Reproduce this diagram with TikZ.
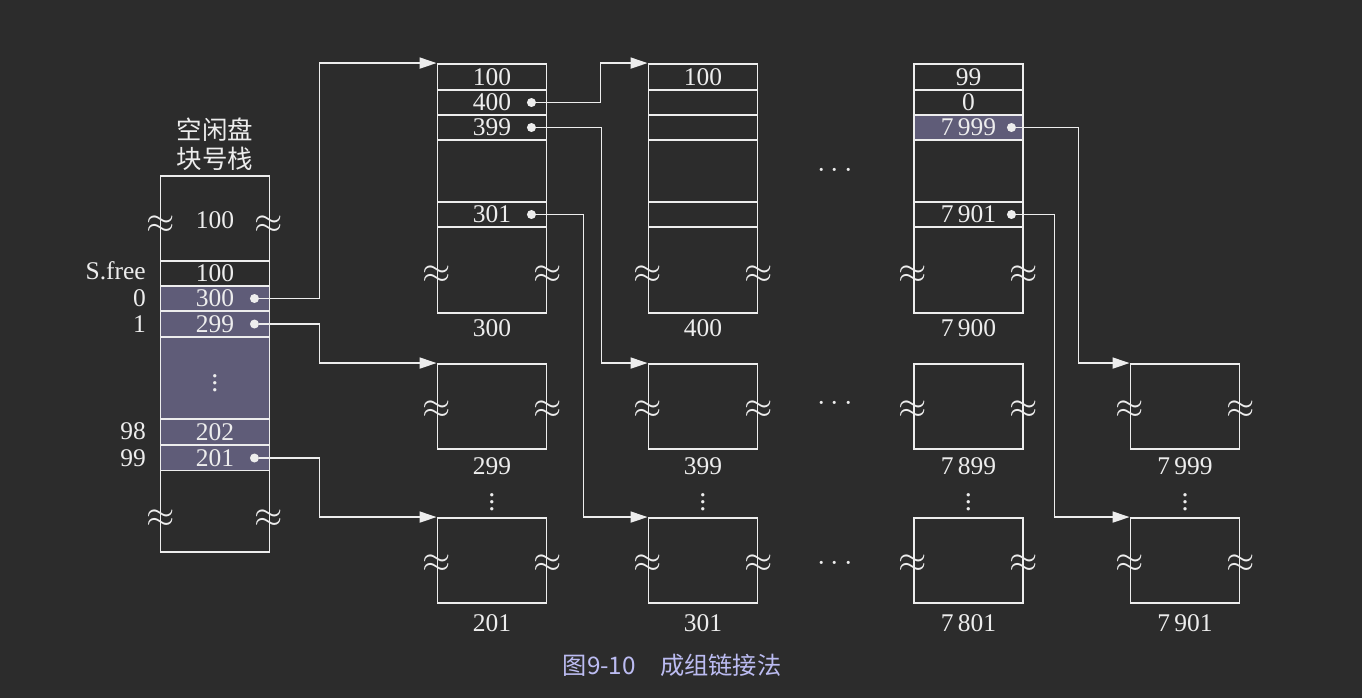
\documentclass[tikz,border=0pt]{standalone}
\usepackage{fontspec}
\setmainfont{Liberation Serif}
\newfontfamily\cjk{Noto Sans CJK SC}
\usetikzlibrary{arrows.meta}
\definecolor{bgdark}{HTML}{2C2C2C}
\definecolor{ink}{HTML}{EDEDED}
\definecolor{slot}{HTML}{5F5C78}
\definecolor{capblue}{HTML}{BCBCF2}

\begin{document}
\begin{tikzpicture}[
  >={Triangle[length=3.4mm, width=2.2mm]}, x=0.02cm, y=-0.02cm,
  every node/.style={text=ink, font=\fontsize{14.5}{17}\selectfont},
  blk/.style={draw=ink, line width=1.1pt, minimum width=2.18cm, inner sep=0pt},
  cell/.style={draw=ink, line width=1.1pt, minimum width=2.18cm,
               minimum height=0.5cm, inner sep=0pt},
  used/.style={cell, fill=slot},
  pin/.style={circle, fill=ink, minimum size=1.8mm, inner sep=0pt},
  brk/.style={font=\fontsize{20}{20}\selectfont, inner sep=0pt},
  gap/.style={inner sep=0pt, font=\fontsize{16}{16}\selectfont},
  link/.style={->, draw=ink, line width=1pt}
]

\fill[bgdark] (0,0) rectangle (1362,698);

% free block number stack
\node[font=\cjk\fontsize{14.5}{16.5}\selectfont, align=center] (sttitle) at (215,144) {空闲盘\\块号栈};
\node[blk, minimum height=7.52cm] (st) at (215,364) {};
\node (sttop) at (215,220) {100};
\node[cell] (stfree) at (215,273.5) {100};
\node[used] (st0) at (215,298.5) {300};
\node[used] (st1) at (215,324) {299};
\node[used, minimum height=1.64cm, font=\fontsize{16}{16}\selectfont] (stdots) at (215,378) {$\vdots$};
\node[used] (st98) at (215,432) {202};
\node[used] (st99) at (215,458) {201};
\foreach \yy in {225,519}{
  \node[brk] (stl\yy) at (161,\yy) {$\approx$};
  \node[brk] (str\yy) at (269,\yy) {$\approx$};
}
\node[anchor=east] (lfree) at (152,271) {S.free};
\node[anchor=east] (l0) at (152,298) {0};
\node[anchor=east] (l1) at (152,324) {1};
\node[anchor=east] (l98) at (152,431) {98};
\node[anchor=east] (l99) at (152,458) {99};
\node[pin] (p0) at ([xshift=-0.32cm]st0.east) {};
\node[pin] (p1) at ([xshift=-0.32cm]st1.east) {};
\node[pin] (p99) at ([xshift=-0.32cm]st99.east) {};

% first blocks of each group
\foreach \cx/\nm/\lb/\va/\vb/\vc/\vd/\st in {492/300/300/100/400/399/301/cell,
    703/400/400/100////cell, 968.5/7900/7\,900/99/0/7\,999/7\,901/used}{
  \node[blk, minimum height=4.98cm] (b\nm) at (\cx,188.5) {};
  \node[cell] (b\nm a) at (\cx,77) {\va};
  \node[cell] (b\nm b) at (\cx,102.5) {\vb};
  \node[\st] (b\nm c) at (\cx,127.5) {\vc};
  \node[cell] (b\nm d) at (\cx,214.5) {\vd};
  \node[brk] (b\nm l) at ([yshift=-1.73cm]b\nm.west) {$\approx$};
  \node[brk] (b\nm r) at ([yshift=-1.73cm]b\nm.east) {$\approx$};
  \node (b\nm n) at (\cx,328) {\lb};
}
\node[pin] (p400) at ([xshift=-0.32cm]b300b.east) {};
\node[pin] (p399) at ([xshift=-0.32cm]b300c.east) {};
\node[pin] (p301) at ([xshift=-0.32cm]b300d.east) {};
\node[pin] (p7999) at ([xshift=-0.25cm]b7900c.east) {};
\node[pin] (p7901) at ([xshift=-0.25cm]b7900d.east) {};

% other blocks
\foreach \cx/\nm/\lb in {492/299/299, 703/399/399, 968.5/7899/7\,899, 1185/7999/7\,999}{
  \node[blk, minimum height=1.7cm] (b\nm) at (\cx,406.5) {};
  \node[brk] (b\nm l) at ([yshift=-0.07cm]b\nm.west) {$\approx$};
  \node[brk] (b\nm r) at ([yshift=-0.07cm]b\nm.east) {$\approx$};
  \node (b\nm n) at (\cx,466) {\lb};
  \node[gap] (v\nm) at (\cx,497) {$\vdots$};
}
\foreach \cx/\nm/\lb in {492/201/201, 703/301/301, 968.5/7801/7\,801, 1185/7901/7\,901}{
  \node[blk, minimum height=1.7cm] (b\nm) at (\cx,560.5) {};
  \node[brk] (b\nm l) at ([yshift=-0.07cm]b\nm.west) {$\approx$};
  \node[brk] (b\nm r) at ([yshift=-0.07cm]b\nm.east) {$\approx$};
  \node (b\nm n) at (\cx,623) {\lb};
}
\node[gap] (h1) at (835,171) {$\cdots$};
\node[gap] (h2) at (835,404) {$\cdots$};
\node[gap] (h3) at (835,564) {$\cdots$};

% links
\draw[link] (p0) -- ++(65,0) |- (b300.north west);
\draw[link] (p1) -- ++(65,0) |- (b299.north west);
\draw[link] (p99) -- ++(65,0) |- (b201.north west);
\draw[link] (p400) -- ++(69,0) |- (b400.north west);
\draw[link] (p399) -- ++(70,0) |- (b399.north west);
\draw[link] (p301) -- ++(52,0) |- (b301.north west);
\draw[link] (p7999) -- ++(67,0) |- (b7999.north west);
\draw[link] (p7901) -- ++(43,0) |- (b7901.north west);

\node[text=capblue, font=\cjk\fontsize{13.8}{16}\selectfont] (cap) at (672,665) {图9-10\quad 成组链接法};

\end{tikzpicture}
\end{document}
